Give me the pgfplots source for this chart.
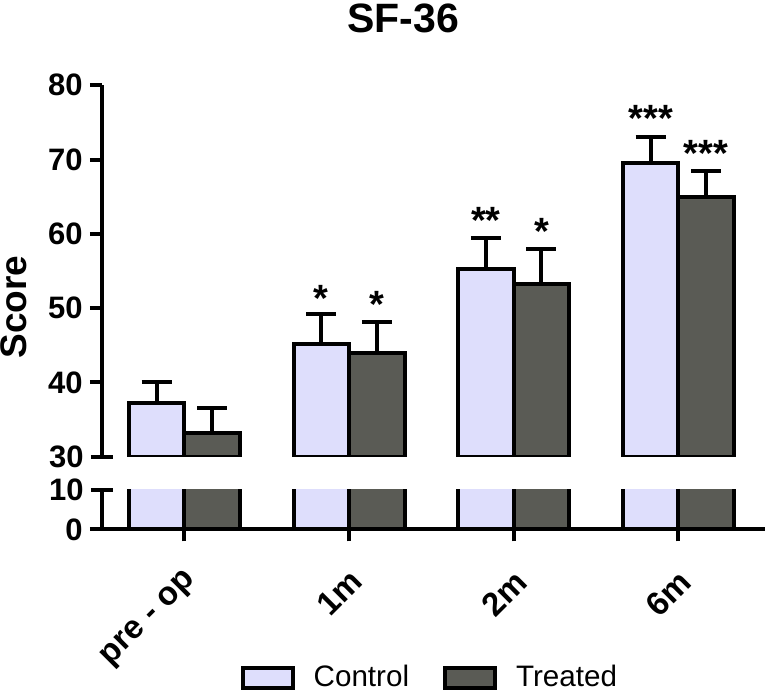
\documentclass[border=0pt]{standalone}
\usepackage{fontspec}
\setmainfont{Liberation Sans}
\usepackage{pgfplots}
\usepackage{pgfplotstable}
\pgfplotsset{compat=1.18}

\definecolor{ctrl}{RGB}{222,222,252}
\definecolor{trt}{RGB}{90,91,85}

% mean and SEM per time point
\pgfplotstableread{
x y e
0 37.2 2.9
1 45.2 4.0
2 55.3 4.1
3 69.6 3.4
}\control
\pgfplotstableread{
x y e
0 33.2 3.4
1 43.9 4.2
2 53.2 4.8
3 65.0 3.4
}\treated

\pgfplotsset{
  sfbase/.style={
    scale only axis, width=331.5pt,
    xmin=-0.5, xmax=3.526,
    ybar=0pt, bar width=27.75pt,
    axis y line*=left,
    axis line style={line width=2pt, black},
    tick align=outside, major tick length=6pt,
    tick style={line width=2pt, black},
    ticklabel style={font=\bfseries\fontsize{15.5}{17}\selectfont},
    yticklabel style={inner sep=0pt, xshift=-3.5pt},
    /pgf/number format/assume math mode=true,
    extra y tick style={tick align=center, major tick length=11pt},
  },
  barstyle/.style={draw=black, line width=2pt, fill=#1},
}

\begin{document}
\begin{tikzpicture}
\useasboundingbox (-51pt,-80.25pt) rectangle (332.5pt,264.75pt);

% lower segment 0-10
\begin{axis}[sfbase,
  at={(0pt,0pt)}, anchor=south west,
  height=19.75pt, ymin=0, ymax=10,
  axis x line*=bottom,
  ytick={0}, extra y ticks={10},
  xtick={0,1,2,3}, xticklabels={pre - op, 1m, 2m, 6m},
  xticklabel style={font=\bfseries\fontsize{16.5}{18}\selectfont,
    xshift=-0.5pt, yshift=-13pt, rotate=45, anchor=north east, inner sep=0pt},
  legend style={at={(0.496,-3.75)}, anchor=center, draw=none,
    font=\fontsize{14.8}{16}\selectfont, legend columns=2,
    /tikz/every odd column/.append style={column sep=7.5pt},
    /tikz/every even column/.append style={column sep=15pt}},
  legend image code/.code={\draw[#1, line width=2pt] (0pt,-5pt) rectangle (25pt,5pt);},
]
\addplot[barstyle=ctrl] table[x=x, y=y] {\control};
\addplot[barstyle=trt] table[x=x, y=y] {\treated};
\legend{Control, Treated}
\end{axis}

% upper segment 30-80
\begin{axis}[sfbase,
  at={(0pt,36.4pt)}, anchor=south west,
  height=185.7pt, ymin=30, ymax=80,
  axis x line=none,
  ytick={40,50,60,70,80}, extra y ticks={30},
]
\addplot[barstyle=ctrl, error bars/.cd, y dir=plus, y explicit,
  error bar style={line width=2pt, black},
  error mark options={rotate=90, mark size=7.5pt, line width=2pt, black}]
  table[x=x, y=y, y error=e] {\control};
\addplot[barstyle=trt, error bars/.cd, y dir=plus, y explicit,
  error bar style={line width=2pt, black},
  error mark options={rotate=90, mark size=7.5pt, line width=2pt, black}]
  table[x=x, y=y, y error=e] {\treated};
\begin{scope}[every node/.style={font=\bfseries\fontsize{19}{20}\selectfont, anchor=base, inner sep=0pt}]
\node at (axis cs:0.8315,49.6) {*};
\node at (axis cs:1.1685,48.7) {*};
\node at (axis cs:1.8315,60.1) {**};
\node at (axis cs:2.1685,58.6) {*};
\node at (axis cs:2.8315,73.8) {***};
\node at (axis cs:3.1685,69.1) {***};
\end{scope}
\end{axis}

\node[font=\bfseries\fontsize{20.5}{22}\selectfont] at (150.5pt,255.75pt) {SF-36};
\node[font=\bfseries\fontsize{18.5}{20}\selectfont, rotate=90] at (-44pt,111.25pt) {Score};
\end{tikzpicture}
\end{document}
